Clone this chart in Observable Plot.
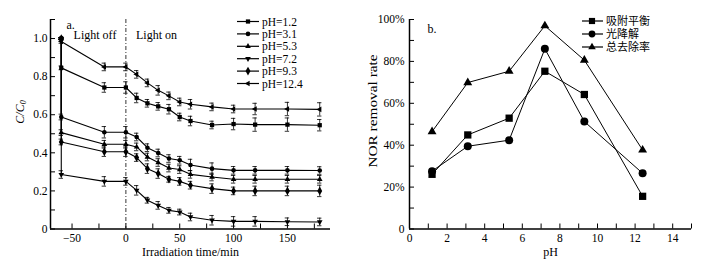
<!DOCTYPE html>
<html><head><meta charset="utf-8">
<script src="https://cdn.jsdelivr.net/npm/d3@7"></script>
<script src="https://cdn.jsdelivr.net/npm/@observablehq/plot@0.6"></script>
<style>
html,body{margin:0;padding:0;background:#fff;}
#wrap{display:flex;width:709px;height:266px;overflow:hidden;}
#wrap svg{display:block;flex:none;}
</style></head><body><div id="wrap"></div>
<script>
// ---------- Panel a data ----------
const times = [-60, -60, -20, 0, 10, 20, 30, 40, 50, 60, 80, 100, 120, 150, 180];
const seriesNames = ["pH=1.2", "pH=3.1", "pH=5.3", "pH=7.2", "pH=9.3", "pH=12.4"];
const pH1_2  = [1.0, 0.846, 0.743, 0.743, 0.688, 0.660, 0.644, 0.629, 0.588, 0.567, 0.546, 0.551, 0.548, 0.548, 0.545];
const pH3_1  = [1.0, 0.588, 0.508, 0.508, 0.483, 0.427, 0.399, 0.370, 0.361, 0.336, 0.317, 0.308, 0.308, 0.308, 0.307];
const pH5_3  = [1.0, 0.506, 0.445, 0.445, 0.431, 0.378, 0.349, 0.320, 0.312, 0.287, 0.273, 0.261, 0.261, 0.261, 0.261];
const pH7_2  = [1.0, 0.286, 0.250, 0.250, 0.203, 0.151, 0.124, 0.098, 0.089, 0.063, 0.046, 0.040, 0.040, 0.038, 0.037];
const pH9_3  = [1.0, 0.457, 0.406, 0.406, 0.375, 0.317, 0.291, 0.261, 0.250, 0.230, 0.212, 0.200, 0.200, 0.200, 0.200];
const pH12_4 = [1.0, 0.985, 0.851, 0.851, 0.812, 0.767, 0.728, 0.699, 0.667, 0.655, 0.641, 0.630, 0.630, 0.630, 0.628];
const err1_2  = [0.005, 0.010, 0.025, 0.030, 0.025, 0.020, 0.020, 0.025, 0.020, 0.025, 0.020, 0.030, 0.035, 0.035, 0.030];
const err3_1  = [0.005, 0.015, 0.030, 0.030, 0.020, 0.020, 0.020, 0.020, 0.020, 0.030, 0.030, 0.020, 0.020, 0.020, 0.020];
const err5_3  = [0.005, 0.015, 0.020, 0.020, 0.020, 0.020, 0.020, 0.020, 0.020, 0.020, 0.020, 0.020, 0.020, 0.020, 0.020];
const err7_2  = [0.005, 0.020, 0.025, 0.020, 0.025, 0.015, 0.020, 0.015, 0.015, 0.020, 0.025, 0.025, 0.025, 0.020, 0.020];
const err9_3  = [0.005, 0.015, 0.025, 0.025, 0.020, 0.025, 0.025, 0.015, 0.020, 0.020, 0.025, 0.020, 0.025, 0.025, 0.030];
const err12_4 = [0.005, 0.010, 0.020, 0.020, 0.020, 0.020, 0.025, 0.020, 0.020, 0.025, 0.020, 0.020, 0.030, 0.035, 0.035];
const seriesA = [pH1_2, pH3_1, pH5_3, pH7_2, pH9_3, pH12_4];
const errorsA = [err1_2, err3_1, err5_3, err7_2, err9_3, err12_4];

const aXDomain = [-70, 190];
const aYDomain = [0, 1.1];
const aXTicks = [-50, 0, 50, 100, 150];
const aXTickLabels = ["\u221250", "0", "50", "100", "150"];
const aXMinor = [-25, 25, 75, 125, 175];
const aYTicks = [0, 0.2, 0.4, 0.6, 0.8, 1.0];
const aYTickLabels = ["0", "0.2", "0.4", "0.6", "0.8", "1.0"];
const aYMinor = [0.1, 0.3, 0.5, 0.7, 0.9, 1.1];

// ---------- Panel b data ----------
const pHValues = [1.2, 3.1, 5.3, 7.2, 9.3, 12.4];
const bSeriesNames = ["吸附平衡", "光降解", "总去除率"];
const adsorption = [0.261, 0.449, 0.529, 0.753, 0.642, 0.156];
const photodeg   = [0.276, 0.395, 0.424, 0.860, 0.513, 0.266];
const totalRem   = [0.465, 0.699, 0.753, 0.970, 0.806, 0.377];
const seriesB = [adsorption, photodeg, totalRem];

const bXDomain = [0, 15];
const bYDomain = [0, 1];
const bXTicks = [0, 2, 4, 6, 8, 10, 12, 14];
const bXMinor = [1, 3, 5, 7, 9, 11, 13, 15];
const bYTicks = [0, 0.2, 0.4, 0.6, 0.8, 1.0];
const bYTickLabels = ["0", "20%", "40%", "60%", "80%", "100%"];
const bYMinor = [0.1, 0.3, 0.5, 0.7, 0.9];

// ---------- symbols ----------
const sqrt3 = Math.sqrt(3);
const triDown = {draw(ctx, size) {
  const y = -Math.sqrt(size / (sqrt3 * 3));
  ctx.moveTo(0, -y * 2); ctx.lineTo(-sqrt3 * y, y); ctx.lineTo(sqrt3 * y, y); ctx.closePath();
}};
const triLeft = {draw(ctx, size) {
  const y = -Math.sqrt(size / (sqrt3 * 3));
  ctx.moveTo(y * 2, 0); ctx.lineTo(-y, -sqrt3 * y); ctx.lineTo(-y, sqrt3 * y); ctx.closePath();
}};
const symbolsA = [d3.symbolSquare, d3.symbolCircle, d3.symbolTriangle, triDown, d3.symbolDiamond, triLeft];
const radiiA = [2.4, 2.3, 2.1, 2.1, 2.6, 2.1];
const symbolsB = [d3.symbolSquare, d3.symbolCircle, d3.symbolTriangle];
const radiiB = [4.1, 4.0, 3.3];

const serif = "'Liberation Serif', 'Times New Roman', serif";

function drawLegend(svg, items, o) {
  const g = d3.select(svg).append("g").attr("font-family", o.font).attr("font-size", o.size)
    .attr("fill", "black").attr("text-anchor", "start");
  items.forEach((it, i) => {
    const y = o.y0 + i * o.dy;
    g.append("line").attr("x1", o.x1).attr("x2", o.x2).attr("y1", y).attr("y2", y)
      .attr("stroke", "black").attr("stroke-width", 1.2);
    g.append("path").attr("d", d3.symbol(it.symbol, Math.PI * it.r * it.r)())
      .attr("transform", `translate(${o.xm},${y})`);
    g.append("text").attr("x", o.xt).attr("y", y).attr("dy", "0.36em").text(it.name);
  });
}

// ---------- Panel a ----------
const dataA = seriesNames.flatMap((name, s) =>
  times.map((t, i) => ({series: name, t, v: seriesA[s][i], e: errorsA[s][i]})));

const plotA = Plot.plot({
  width: 360, height: 266,
  marginLeft: 50, marginRight: 30, marginTop: 19, marginBottom: 37.5,
  x: {domain: aXDomain},
  y: {domain: aYDomain},
  style: {fontFamily: serif, fontSize: "11.5px", background: "white", color: "black"},
  marks: [
    Plot.ruleX([0], {strokeDasharray: "4,2,1,2", strokeWidth: 0.8}),
    Plot.ruleX(dataA, {x: "t", y1: d => d.v - d.e, y2: d => d.v + d.e, strokeWidth: 0.8}),
    Plot.ruleY(dataA, {y: d => d.v + d.e, x1: "t", x2: "t", insetLeft: -2.2, insetRight: -2.2, strokeWidth: 0.8}),
    Plot.ruleY(dataA, {y: d => d.v - d.e, x1: "t", x2: "t", insetLeft: -2.2, insetRight: -2.2, strokeWidth: 0.8}),
    Plot.line(dataA, {x: "t", y: "v", z: "series", stroke: "black", strokeWidth: 1.1}),
    ...seriesNames.map((name, s) => Plot.dot(dataA.filter(d => d.series === name),
      {x: "t", y: "v", symbol: symbolsA[s], r: radiiA[s], fill: "black", stroke: "none"})),
    Plot.axisY(aYTicks, {tickSize: -5, tickPadding: 8, label: null, fontSize: 11.5,
      tickFormat: d => aYTickLabels[aYTicks.indexOf(d)]}),
    Plot.axisY(aYMinor, {tickSize: -5, label: null, tickFormat: () => ""}),
    Plot.axisX(aXTicks, {tickSize: -5, tickPadding: 10, label: null, fontSize: 11.5,
      tickFormat: d => aXTickLabels[aXTicks.indexOf(d)]}),
    Plot.axisX(aXMinor, {tickSize: -5, label: null, tickFormat: () => ""}),
    Plot.ruleX([aXDomain[0]], {strokeWidth: 1.5}),
    Plot.ruleY([aYDomain[0]], {strokeWidth: 1.5}),
    Plot.text(["Irradiation time/min"], {frameAnchor: "bottom", dy: 26.5, fontSize: 12}),
    Plot.text(["a."], {frameAnchor: "top-left", dx: 16, dy: 1, fontSize: 12, textAnchor: "start"}),
    Plot.text(["Light off"], {frameAnchor: "top-left", dx: 44.5, dy: 11, fontSize: 12, textAnchor: "middle"}),
    Plot.text(["Light on"], {frameAnchor: "top-left", dx: 106, dy: 11, fontSize: 12, textAnchor: "middle"})
  ]
});

// y label C/C0 with subscript
{
  const t = d3.select(plotA).append("text")
    .attr("transform", "translate(24,112) rotate(-90)")
    .attr("text-anchor", "middle").attr("font-family", serif).attr("font-size", 12)
    .attr("font-style", "italic").attr("fill", "black");
  t.append("tspan").text("C/C");
  t.append("tspan").attr("font-size", 8).attr("dy", "0.3em").text("0");
}
drawLegend(plotA, seriesNames.map((name, s) => ({name, symbol: symbolsA[s], r: radiiA[s]})),
  {x1: 237, x2: 259, xm: 248, xt: 262, y0: 21.5, dy: 12.4, font: serif, size: 11.5});

// ---------- Panel b ----------
const dataB = bSeriesNames.flatMap((name, s) =>
  pHValues.map((p, i) => ({series: name, p, v: seriesB[s][i]})));

const plotB = Plot.plot({
  width: 349, height: 266,
  marginLeft: 49, marginRight: 18, marginTop: 19, marginBottom: 37.5,
  x: {domain: bXDomain},
  y: {domain: bYDomain},
  style: {fontFamily: serif, fontSize: "11.5px", background: "white", color: "black"},
  marks: [
    Plot.line(dataB, {x: "p", y: "v", z: "series", stroke: "black", strokeWidth: 1}),
    ...bSeriesNames.map((name, s) => Plot.dot(dataB.filter(d => d.series === name),
      {x: "p", y: "v", symbol: symbolsB[s], r: radiiB[s], fill: "black", stroke: "none"})),
    Plot.axisY(bYTicks, {tickSize: -5, tickPadding: 10, label: null, fontSize: 11.5,
      tickFormat: d => bYTickLabels[bYTicks.indexOf(d)]}),
    Plot.axisY(bYMinor, {tickSize: -5, label: null, tickFormat: () => ""}),
    Plot.axisX(bXTicks, {tickSize: -5, tickPadding: 10, label: null, fontSize: 11.5, tickFormat: d => String(d)}),
    Plot.axisX(bXMinor, {tickSize: -5, label: null, tickFormat: () => ""}),
    Plot.ruleX([bXDomain[0]], {strokeWidth: 1.5}),
    Plot.ruleY([bYDomain[0]], {strokeWidth: 1.5}),
    Plot.text(["pH"], {frameAnchor: "bottom", dy: 26.5, fontSize: 12}),
    Plot.text(["b."], {frameAnchor: "top-left", dx: 18, dy: 5, fontSize: 12, textAnchor: "start"})
  ]
});
// y label, stretched along its length like the reference
d3.select(plotB).append("text")
  .attr("transform", "translate(17,111) rotate(-90) scale(1.28,1)")
  .attr("text-anchor", "middle").attr("font-family", serif).attr("font-size", 12)
  .attr("fill", "black").text("NOR removal rate");

drawLegend(plotB, bSeriesNames.map((name, s) => ({name, symbol: symbolsB[s], r: radiiB[s] * 0.85})),
  {x1: 222, x2: 243, xm: 232, xt: 246, y0: 21, dy: 13, font: "'Noto Sans CJK SC', sans-serif", size: 11});

const wrap = document.getElementById("wrap");
wrap.appendChild(plotA);
wrap.appendChild(plotB);
</script></body></html>
